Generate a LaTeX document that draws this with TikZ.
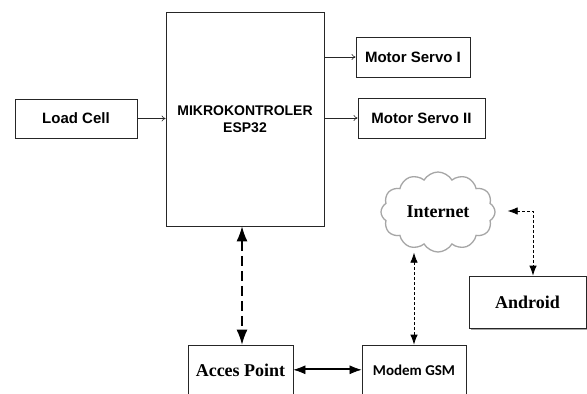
\documentclass[tikz,border=0pt]{standalone}
\usepackage{fontspec}
\setmainfont{Liberation Serif}
\setsansfont{Liberation Sans}
\newfontfamily\calib{Carlito}
\usetikzlibrary{arrows.meta, shapes.symbols, shadows}

\begin{document}
\begin{tikzpicture}[x=1pt, y=-1pt,
  blk/.style={draw=black!85, line width=0.8pt, align=center, inner sep=0pt},
  sanslbl/.style={font=\sffamily\bfseries\fontsize{15}{17}\selectfont},
  seriflbl/.style={font=\rmfamily\bfseries\fontsize{18}{20}\selectfont},
  thinarr/.style={draw=black!85, line width=0.6pt, -{To[length=4pt,width=6pt]}},
  bigtip/.tip={Latex[length=15pt,width=11pt]},
  smalltip/.tip={Latex[length=10pt,width=7.5pt]},
  dbltip/.tip={Latex[length=12pt,width=9pt]}]
\clip (0,0) rectangle (587,394);
\fill[white] (0,0) rectangle (587,394);
\node[blk, sanslbl, minimum width=122, minimum height=39] (LC) at (76,118.5) {Load Cell};
\node[blk, font=\sffamily\bfseries\fontsize{14}{16.5}\selectfont, minimum width=158, minimum height=214] (MCU) at (245,119) {MIKROKONTROLER\\ESP32};
\node[blk, sanslbl, minimum width=114, minimum height=40] (MS1) at (413,57) {Motor Servo I};
\node[blk, sanslbl, minimum width=127, minimum height=40] (MS2) at (421.5,118) {Motor Servo II};
\node[cloud, cloud puffs=12, cloud puff arc=120, aspect=1.45, draw=gray!70, line width=1.3pt, inner sep=0pt, minimum width=114, minimum height=80, seriflbl] (NET) at (438,212) {Internet};
\node[blk, seriflbl, minimum width=117, minimum height=52, fill=white, drop shadow={shadow xshift=1.6pt, shadow yshift=-1.6pt, fill=gray!70, opacity=1}] (AND) at (527.5,302) {Android};
\node[blk, seriflbl, minimum width=105, minimum height=50] (AP) at (240.5,370) {Acces Point};
\node[blk, font=\calib\bfseries\fontsize{15}{17}\selectfont, minimum width=104, minimum height=50] (GSM) at (414,370) {Modem GSM};
\draw[thinarr] (LC.east) -- (LC.east -| MCU.west);
\draw[thinarr] (MCU.east |- MS1) -- (MS1.west);
\draw[thinarr] (MCU.east |- MS2) -- (MS2.west);
\draw[line width=1.2pt, dash pattern=on 10pt off 5pt, bigtip-bigtip] ([xshift=1.5pt]AP.north |- MCU.south) -- ([xshift=1.5pt]AP.north);
\draw[line width=0.8pt, dash pattern=on 3pt off 2pt, smalltip-smalltip] (GSM.north |- NET.south) -- (GSM.north);
\draw[line width=0.8pt, dash pattern=on 3pt off 2pt, smalltip-smalltip] ([xshift=12pt,yshift=1pt]NET.east) -| ([xshift=5.5pt]AND.north);
% double link between access point and modem
\draw[line width=0.7pt, dbltip-dbltip] ([yshift=0.2pt]AP.east) -- ([yshift=0.2pt]GSM.west);
\draw[line width=0.7pt] ([xshift=8pt,yshift=2pt]AP.east) -- ([xshift=-8pt,yshift=2pt]GSM.west);
\end{tikzpicture}
\end{document}
